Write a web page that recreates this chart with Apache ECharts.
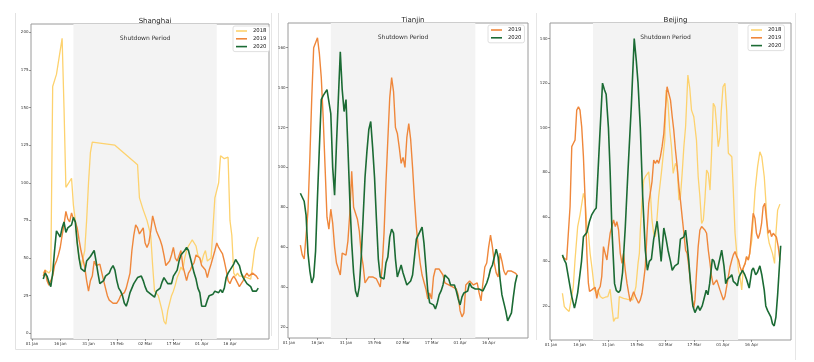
<!DOCTYPE html>
<html>
<head>
<meta charset="utf-8">
<script src="https://cdn.jsdelivr.net/npm/echarts@6/dist/echarts.min.js"></script>
<style>
html,body{margin:0;padding:0;background:#fff;}
#chart{width:814px;height:362px;}
</style>
</head>
<body>
<div id="chart"></div>
<script>
// ---------- data (x = days since 01 Jan, y = value) ----------
const dayTicks = [0, 15, 30, 45, 60, 75, 90, 105];
const dayTickLabels = ['01 Jan', '16 Jan', '31 Jan', '15 Feb', '02 Mar', '17 Mar', '01 Apr', '16 Apr'];
const shutdownStart = 22;   // 23 Jan
const shutdownEnd = 98;     // 08 Apr
const cityNames = ['Shanghai', 'Tianjin', 'Beijing'];
const shYTicks = [0, 25, 50, 75, 100, 125, 150, 175, 200];
const tjYTicks = [20, 40, 60, 80, 100, 120, 140, 160];
const bjYTicks = [20, 40, 60, 80, 100, 120, 140];

const sh2018 = [[6,40],[7,42],[8,42],[9,40],[10,42],[11,164],[12,163],[13,172],[14,180],[16,196],[17,150],[18,97],[19,99],[20,100],[21,103],[22,85],[23,75],[24,60],[25,50],[26,44],[27,45],[28,55],[29,75],[30,100],[31,120],[32,127],[33,128],[44,125],[56,112],[57,90],[59,82],[61,75],[63,65],[64,45],[65,28],[67,25],[68,20],[69,15],[70,8],[71,6],[72,15],[73,20],[74,25],[75,28],[76,32],[77,37],[78,40],[79,44],[80,42],[81,50],[82,55],[83,58],[84,60],[85,62],[86,61],[87,58],[88,52],[89,50],[90,47],[91,52],[92,55],[93,48],[94,47],[95,50],[96,50],[97,90],[98,95],[99,100],[100,118],[101,117],[102,116],[103,116],[104,117],[105,75],[106,65],[107,40],[108,38],[109,40],[110,38],[112,38],[114,37],[116,36],[117,45],[118,55],[119,60],[120,64]];
const sh2019 = [[6,38],[7,42],[8,35],[9,32],[10,31],[11,38],[12,45],[13,48],[14,52],[15,57],[16,65],[17,72],[18,81],[19,76],[20,74],[21,80],[22,76],[23,74],[24,70],[25,62],[26,55],[27,55],[28,44],[29,35],[30,28],[31,35],[32,38],[33,48],[34,45],[35,46],[36,46],[37,47],[38,35],[39,30],[40,25],[41,22],[42,22],[43,20],[44,19],[45,20],[46,22],[47,25],[48,25],[49,27],[50,30],[51,35],[52,40],[53,55],[54,65],[55,72],[56,70],[57,66],[58,66],[59,70],[60,60],[61,57],[62,60],[63,68],[64,78],[65,77],[66,68],[67,65],[68,62],[69,58],[70,52],[71,45],[72,44],[73,48],[74,52],[75,57],[76,50],[77,48],[78,47],[79,55],[80,45],[81,40],[82,35],[83,40],[84,42],[85,45],[86,47],[87,52],[88,53],[89,50],[90,45],[91,44],[92,42],[93,37],[94,42],[95,46],[96,47],[97,55],[98,60],[99,57],[100,55],[101,53],[102,48],[103,42],[104,35],[105,33],[106,36],[107,38],[108,36],[109,35],[110,31],[111,32],[112,35],[113,38],[114,40],[115,38],[116,39],[117,40],[118,41],[119,38],[120,36]];
const sh2020 = [[6,36],[7,40],[8,38],[9,34],[10,31],[11,40],[12,55],[13,68],[14,66],[15,64],[16,70],[17,74],[18,67],[19,70],[20,70],[21,72],[22,77],[23,74],[24,60],[25,50],[26,43],[27,42],[28,41],[29,48],[30,47],[31,51],[32,53],[33,55],[34,48],[35,40],[36,33],[37,32],[38,35],[39,38],[40,37],[41,40],[42,43],[43,45],[44,42],[45,35],[46,30],[47,28],[48,25],[49,20],[50,18],[51,22],[52,27],[53,30],[54,33],[55,35],[56,37],[57,38],[58,38],[59,35],[60,31],[61,28],[62,27],[63,26],[64,25],[65,24],[66,28],[67,27],[68,30],[69,34],[70,37],[71,35],[72,33],[73,33],[74,33],[75,38],[76,40],[77,42],[78,48],[79,52],[80,53],[81,55],[82,57],[83,55],[84,50],[85,45],[86,40],[87,36],[88,30],[89,27],[90,18],[91,19],[92,18],[93,22],[94,25],[95,25],[96,26],[97,28],[98,28],[99,27],[100,29],[101,27],[102,30],[103,37],[104,40],[105,42],[106,44],[107,46],[108,49],[109,48],[110,45],[111,40],[112,37],[113,36],[114,33],[115,32],[116,31],[117,28],[118,27],[119,28],[120,30]];

const tj2019 = [[6,61],[7,56],[8,54],[9,53],[10,78],[11,105],[12,135],[13,160],[14,161],[15,165],[16,157],[17,145],[18,125],[19,100],[20,75],[21,69],[22,79],[23,72],[24,60],[25,52],[26,52],[27,46],[28,57],[29,56],[30,56],[31,63],[32,77],[33,98],[34,80],[35,79],[36,74],[37,68],[38,57],[39,51],[40,42],[41,42],[42,45],[43,46],[44,45],[45,44],[46,44],[47,42],[48,40],[49,50],[50,67],[51,92],[52,114],[53,135],[54,145],[55,138],[56,120],[57,117],[58,110],[59,102],[60,105],[61,100],[62,115],[63,122],[64,114],[65,100],[66,84],[67,70],[68,60],[69,52],[70,46],[71,47],[72,39],[73,34],[74,37],[75,34],[76,45],[77,49],[78,50],[79,49],[80,48],[81,46],[82,42],[83,43],[84,41],[85,40],[86,40],[87,40],[88,39],[89,36],[90,28],[91,25],[92,27],[93,41],[94,40],[95,43],[96,43],[97,41],[98,41],[99,42],[100,37],[101,33],[102,42],[103,50],[104,52],[105,60],[106,66],[107,60],[108,52],[109,47],[110,45],[111,57],[112,53],[113,48],[114,46],[115,48],[116,49],[117,48],[118,48],[119,47],[120,46]];
const tj2020 = [[6,87],[7,86],[8,83],[9,76],[10,57],[11,48],[12,42],[13,45],[14,58],[15,85],[16,110],[17,134],[18,136],[19,137],[20,139],[21,139],[22,127],[23,100],[24,86],[25,112],[26,135],[27,158],[28,139],[29,128],[30,134],[31,110],[32,84],[33,62],[34,47],[35,38],[36,35],[37,40],[38,55],[39,75],[40,95],[41,108],[42,119],[43,123],[44,110],[45,95],[46,74],[47,54],[48,45],[49,44],[50,44],[51,52],[52,55],[53,65],[54,69],[55,67],[56,54],[57,45],[58,44],[59,51],[60,47],[61,44],[62,41],[63,41],[64,43],[65,46],[66,55],[67,64],[68,65],[69,68],[70,70],[71,62],[72,50],[73,38],[74,32],[75,33],[76,31],[77,29],[78,32],[79,36],[80,38],[81,41],[82,46],[83,47],[84,44],[85,41],[86,40],[87,41],[88,38],[89,34],[90,31],[91,35],[92,37],[93,37],[94,38],[95,42],[96,40],[97,39],[98,39],[99,38],[100,39],[101,40],[102,38],[103,40],[104,42],[105,45],[106,49],[107,51],[108,55],[109,59],[110,55],[111,44],[112,36],[113,32],[114,28],[115,23],[116,22],[117,27],[118,35],[119,42],[120,46]];

const bj2018 = [[6,25.7],[7,19.7],[8.2,18.5],[9.5,17.5],[10.5,18.2],[11.7,28.7],[12.6,40.6],[14,55.6],[15.2,60.8],[16.1,61.6],[17,70.5],[17.9,67.5],[18.8,55.6],[19.6,52.6],[20.5,43.6],[21.4,37.6],[22.8,27.2],[23.7,25.7],[24.5,27.2],[25.8,24.2],[27,23.4],[28.4,23.9],[29.8,24.2],[31,27.5],[31.9,19.7],[32.8,13],[33.7,14.5],[35.1,14.5],[35.8,24.2],[38,23.4],[39.8,23],[42.8,22.7],[43.8,22.7],[44.5,28.7],[45.6,39.1],[46.3,43.6],[46.8,54.1],[47.7,67.5],[48.6,76.5],[49.4,78],[50.3,78.7],[51.2,80.2],[52.1,70.5],[52.9,58.6],[53.8,52.6],[54.7,51.1],[55.6,60],[56.4,69],[57.8,79.5],[58.5,79.5],[59.6,94.4],[60.3,116.9],[61.3,111],[62.2,99],[63.1,91.5],[64,79.5],[65.2,84],[66.1,82.5],[67,67.5],[67.8,69],[68.7,79.5],[69.6,91.5],[70.5,100.4],[71.7,123.6],[72.7,117.6],[73.6,107.9],[74.8,104.9],[75.7,105.7],[76.2,94.4],[77.1,78],[78,69],[78.9,57],[79.8,58.6],[80.6,67.5],[81.5,81],[82.4,79.5],[83.3,72],[84.1,88.5],[85,111],[85.9,109.4],[86.8,100.4],[87.6,91.5],[88.5,95.9],[89.2,107.9],[90.1,118.4],[91.1,119.9],[92,107.9],[92.9,88.5],[93.8,88.5],[94.7,87],[95.4,73.5],[96.4,52.6],[97.3,43.6],[98.2,36.1],[99,33.2],[99.9,27.2],[100.8,37.6],[101.7,39.1],[102.4,42.1],[103.4,40.6],[104.1,43.6],[105.2,49.6],[106,60],[106.9,72],[108.2,82.5],[109.4,89.2],[110.4,87],[111.7,78],[112.5,67.5],[113.4,52.6],[114.3,48.1],[116,43.6],[117.1,39.1],[117.8,52.6],[118.7,63],[119.9,65.7]];
const bj2019 = [[6,42.1],[7,41.4],[8.2,40.6],[9.1,39.9],[10,64.5],[10.9,91.5],[11.7,92.9],[12.6,94.4],[13.5,107.9],[14.4,109.4],[15.2,107.9],[16.1,100.4],[17,87],[17.9,67.5],[18.8,43.6],[19.6,30.2],[20.2,26.5],[21.4,27.2],[22.3,27.9],[23.1,28.4],[24,23.4],[24.9,27.2],[25.8,28.7],[26.6,33.2],[27.5,46.6],[28.4,43.6],[29.3,40.6],[30.1,46.6],[31,52.6],[31.9,55.6],[32.8,58.6],[33.7,55.6],[34.5,57.8],[35.4,54.1],[36.3,43.6],[37.2,39.1],[38,43.6],[38.9,36.1],[39.8,30.2],[40.7,25.7],[41.5,22],[42.4,22.7],[43.3,26.4],[44.2,24.2],[45,23.4],[45.9,21.2],[46.8,22.7],[47.7,25.7],[48.6,31.7],[49.4,37.6],[50.3,52.6],[51.2,66],[52.9,75.7],[53.8,85.5],[54.7,84],[55.6,85.5],[56.4,84],[57.3,87],[58.2,91.5],[59.1,97.4],[59.9,107.9],[60.8,118.4],[61.7,117.6],[62.6,112.4],[63.5,104.9],[64.3,99],[65.2,90],[66.1,82.5],[67,73.5],[67.8,67.5],[68.7,60],[69.6,52.6],[70.5,45],[71.3,43.6],[72.2,37.6],[73.1,30.2],[74,22.7],[74.8,19],[75.4,22.7],[76.2,34.6],[77.1,46.6],[78,54.1],[78.9,55.6],[79.8,54.8],[80.6,54.1],[81.5,52.6],[82.4,45],[83.3,39.1],[84.1,33.2],[85,29.4],[85.9,28.7],[86.8,31.7],[87.6,30.9],[88.5,27.2],[89.4,27.9],[90.3,22.7],[91.1,24.2],[92,28.7],[92.9,33.2],[93.8,37.6],[94.7,40.6],[95.5,42.9],[96.4,44.4],[97.3,42.1],[98.2,40.6],[99,37.6],[99.9,35.4],[100.8,36.1],[101.7,39.1],[102.4,42.1],[103.3,40.6],[104.1,43.6],[105,52.6],[105.9,61.6],[106.8,59.4],[107.6,52.6],[108.5,50.3],[109.4,52.6],[110.3,57],[111.1,64.5],[112,66],[112.9,58.6],[113.8,52.6],[114.6,54.1],[115.5,51.1],[116.4,52.6],[117.3,51.8],[118.1,50.8],[119,46.6],[119.9,40.6]];
const bj2020 = [[6,42.9],[7,40.6],[7.9,39.1],[8.8,34.6],[10,28.7],[10.9,24.2],[12.3,19],[13.1,22],[14,26],[14.9,26],[16,40],[17,51],[18.8,53],[20.2,58],[21.4,61],[22.8,63],[23.7,64],[25.5,95],[27,120],[28,117],[28.9,115],[30.1,100],[31,80],[31.9,55],[33.3,30],[34.2,27],[35.4,26],[36.3,27],[37.5,35],[38.9,55],[40.3,80],[42.1,110],[43.6,140],[44.7,130],[45.6,120],[46.8,100],[48,70],[49.4,45],[50.5,36],[51.5,40],[52.6,41],[53.8,50],[55.6,58],[56.4,52],[57.7,40],[59.1,55],[60.3,50],[61.3,45],[62.6,40],[63.5,36],[64.9,38],[66.6,39],[67.8,50],[68.7,50],[69.6,51],[70.5,54],[71.3,48],[72.2,40],[73.1,30],[74.3,20],[75.4,17],[76.1,17],[77,20],[78,18],[79.2,20],[80.1,23],[81.3,27],[82.2,25],[83.1,30],[84.5,41],[85.4,40],[86.2,37],[87.1,36],[89.4,45],[90.6,38],[91.5,30],[92.4,32],[93.8,33],[94.7,34],[95.5,31],[96.8,30],[97.6,29],[98.5,33],[100.3,36],[101.5,34],[102.4,32],[103.8,28],[105.2,36],[106,37],[107.2,34],[108.1,35],[109.4,38],[110.4,34],[111.7,27],[112.5,20],[113.4,18],[115.2,15],[116,12],[116.9,11],[117.8,15],[118.7,25],[119.5,36],[120.3,47]];

// ---------- styling / layout ----------
const C18 = '#FDD26E', C19 = '#EF873B', C20 = '#1B6B34';
const grids = [
  {left: 31, top: 24, width: 238, height: 315, ymin: -3.8, ymax: 205.5, yticks: shYTicks},
  {left: 288, top: 23, width: 240, height: 315, ymin: 14.4, ymax: 172.4, yticks: tjYTicks},
  {left: 550, top: 23, width: 241, height: 317, ymin: 4.7, ymax: 147, yticks: bjYTicks}
];
const XMIN = -0.5, XMAX = 125.7;

const option = {
  animation: false,
  backgroundColor: '#fff',
  textStyle: {fontFamily: 'DejaVu Sans'},
  grid: grids.map(g => ({left: g.left, top: g.top, width: g.width, height: g.height, show: true,
    borderColor: '#9a9a9a', borderWidth: 1, backgroundColor: 'transparent', containLabel: false})),
  title: grids.map((g, i) => ({text: cityNames[i], left: g.left + g.width / 2, top: g.top - 11,
    textAlign: 'center', textStyle: {fontSize: 7, fontWeight: 'normal', color: '#222', fontFamily: 'DejaVu Sans'}})),
  xAxis: grids.map((g, i) => ({
    type: 'value', gridIndex: i, min: XMIN, max: XMAX, position: 'bottom',
    splitLine: {show: false}, axisLine: {show: false, onZero: false},
    axisTick: {show: true, length: 2, customValues: dayTicks, lineStyle: {color: '#555', width: 0.6}},
    axisLabel: {customValues: dayTicks, fontSize: 4, color: '#333', margin: 2.5,
      formatter: v => dayTickLabels[dayTicks.indexOf(v)] || ''}
  })),
  yAxis: grids.map((g, i) => ({
    type: 'value', gridIndex: i, min: g.ymin, max: g.ymax, position: 'left',
    splitLine: {show: false}, axisLine: {show: false, onZero: false},
    axisTick: {show: true, length: 2, customValues: g.yticks, lineStyle: {color: '#555', width: 0.6}},
    axisLabel: {customValues: g.yticks, fontSize: 4, color: '#333', margin: 2.5, formatter: v => String(v)}
  })),
  legend: [
    {data: ['2018', '2019', '2020'], left: 233, top: 26},
    {data: ['2019', '2020'], left: 488, top: 25},
    {data: ['2018', '2019', '2020'], left: 748, top: 25}
  ].map(l => Object.assign(l, {orient: 'vertical', icon: 'rect', itemWidth: 11, itemHeight: 1.6, itemGap: 2.8,
    padding: [2.5, 3, 2.5, 3], backgroundColor: '#fff', borderColor: '#d8d8d8', borderWidth: 0.8, borderRadius: 2,
    textStyle: {fontSize: 5.3, color: '#222', padding: [0, 0, 0, 1]}, selectedMode: false})),
  graphic: [
    {type: 'polyline', shape: {points: [[15.5, 13], [15.5, 349.5], [278.5, 349.5], [278.5, 13]]}, style: {stroke: '#e2e2e2', fill: null, lineWidth: 1}, silent: true},
    {type: 'line', shape: {x1: 271.5, y1: 13, x2: 271.5, y2: 336}, style: {stroke: '#e6e6e6', lineWidth: 1}, silent: true},
    {type: 'line', shape: {x1: 536.5, y1: 13, x2: 536.5, y2: 340}, style: {stroke: '#e6e6e6', lineWidth: 1}, silent: true},
    {type: 'line', shape: {x1: 795.5, y1: 13, x2: 795.5, y2: 360}, style: {stroke: '#e6e6e6', lineWidth: 1}, silent: true}
  ],
  series: []
};

function lineSeries(name, data, color, width, gi, z) {
  return {type: 'line', name: name, data: data, xAxisIndex: gi, yAxisIndex: gi,
    showSymbol: false, symbol: 'none', smooth: false, z: z,
    lineStyle: {color: color, width: width}, itemStyle: {color: color}, silent: true};
}
function shadeSeries(gi) {
  return {type: 'line', name: 'shade' + gi, data: [], xAxisIndex: gi, yAxisIndex: gi, z: 1, silent: true,
    markArea: {silent: true, itemStyle: {color: '#f3f3f3'},
      label: {show: true, position: 'insideTop', distance: 11, formatter: 'Shutdown Period',
        fontSize: 6, color: '#333', fontFamily: 'DejaVu Sans'},
      data: [[{xAxis: shutdownStart, yAxis: grids[gi].ymax}, {xAxis: shutdownEnd, yAxis: grids[gi].ymin}]]}};
}

option.series.push(shadeSeries(0), shadeSeries(1), shadeSeries(2));
option.series.push(lineSeries('2018', sh2018, C18, 1.3, 0, 2));
option.series.push(lineSeries('2019', sh2019, C19, 1.4, 0, 3));
option.series.push(lineSeries('2020', sh2020, C20, 1.6, 0, 4));
option.series.push(lineSeries('2019', tj2019, C19, 1.4, 1, 3));
option.series.push(lineSeries('2020', tj2020, C20, 1.6, 1, 4));
option.series.push(lineSeries('2018', bj2018, C18, 1.3, 2, 2));
option.series.push(lineSeries('2019', bj2019, C19, 1.4, 2, 3));
option.series.push(lineSeries('2020', bj2020, C20, 1.6, 2, 4));

const chart = echarts.init(document.getElementById('chart'), null, {renderer: 'canvas'});
chart.setOption(option);
</script>
</body>
</html>
